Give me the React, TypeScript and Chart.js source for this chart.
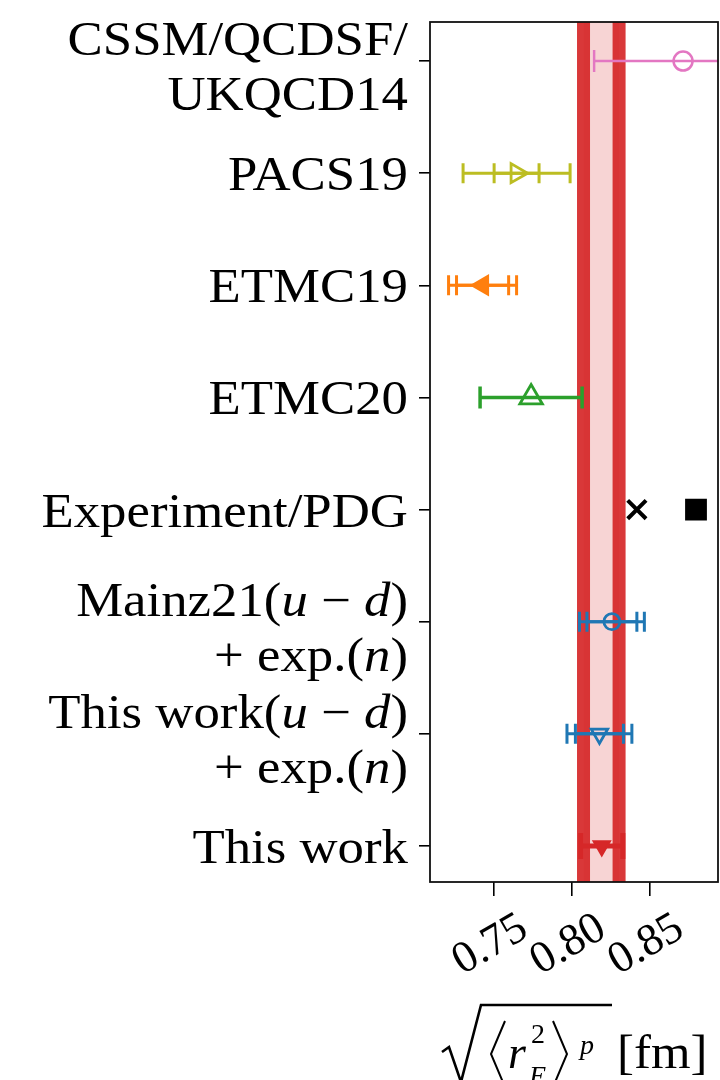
import React, { useEffect, useRef } from 'react';
import { Chart, registerables } from 'chart.js';

Chart.register(...registerables);

// ---------------- data ----------------
const categories: string[][] = [
  ['CSSM/QCDSF/', 'UKQCD14'],
  ['PACS19'],
  ['ETMC19'],
  ['ETMC20'],
  ['Experiment/PDG'],
  ['Mainz21(u − d)', '+ exp.(n)'],
  ['This work(u − d)', '+ exp.(n)'],
  ['This work'],
];
const centralValues: (number | null)[] = [0.8716, 0.7649, 0.7431, 0.7742, null, 0.826, 0.818, 0.8195];
const outerErrors = [0.057, 0.0343, 0.0218, 0.0327, 0, 0.0208, 0.0208, 0.0135];
const innerErrors = [0, 0.0144, 0.0167, 0, 0, 0.016, 0.0154, 0];
const experimentValues = [0.842, 0.8799];
const bandEdges = [0.8078, 0.8306];
const xTickValues = [0.75, 0.8, 0.85];
const xTickLabels = ['0.75', '0.80', '0.85'];
const xRange = [0.7094, 0.894];
const yRange = [-0.348, 7.321];

// ---------------- styles ----------------
type Sty = { color: string; shape: string; rot: number; r: number; fill: boolean; bw: number; lw: number; cap: number };
const styles: Sty[] = [
  { color: '#e377c2', shape: 'circle', rot: 0, r: 9.5, fill: false, bw: 2.5, lw: 2.5, cap: 11 },
  { color: '#bcbd22', shape: 'triangle', rot: 90, r: 11, fill: false, bw: 2.8, lw: 3, cap: 10 },
  { color: '#ff7f0e', shape: 'triangle', rot: 270, r: 11, fill: true, bw: 2, lw: 3, cap: 10 },
  { color: '#2ca02c', shape: 'triangle', rot: 0, r: 13, fill: false, bw: 2.8, lw: 3.5, cap: 11 },
  { color: '#000000', shape: 'crossRot', rot: 0, r: 13, fill: true, bw: 4, lw: 3, cap: 10 },
  { color: '#1f77b4', shape: 'circle', rot: 0, r: 8, fill: false, bw: 2.8, lw: 3, cap: 10 },
  { color: '#1f77b4', shape: 'triangle', rot: 180, r: 9.5, fill: false, bw: 2.8, lw: 3, cap: 10 },
  { color: '#d62728', shape: 'triangle', rot: 180, r: 9.5, fill: true, bw: 2, lw: 5, cap: 13 },
];
const RED = '214,39,40';
const SERIF = '"Liberation Serif", "DejaVu Serif", serif';
const Y_FONT = 48;
const Y_SX = 1.1;

function splitSegments(line: string) {
  const segs: { t: string; it: boolean }[] = [];
  let depth = 0;
  let cur = '';
  let curIt = false;
  for (const ch of line) {
    let it = false;
    if (ch === '(') depth++;
    else if (ch === ')') depth--;
    else if (depth > 0 && /[a-z]/.test(ch)) it = true;
    if (cur && it !== curIt) {
      segs.push({ t: cur, it: curIt });
      cur = '';
    }
    curIt = it;
    cur += ch;
  }
  if (cur) segs.push({ t: cur, it: curIt });
  return segs;
}

const bandAndErrorPlugin = {
  id: 'bandAndErrors',
  beforeDatasetsDraw(chart: any) {
    const { ctx, chartArea: a, scales } = chart;
    const x = scales.x;
    const y = scales.y;
    ctx.save();
    ctx.beginPath();
    ctx.rect(a.left, a.top, a.right - a.left, a.bottom - a.top);
    ctx.clip();
    // band
    const b0 = x.getPixelForValue(bandEdges[0]);
    const b1 = x.getPixelForValue(bandEdges[1]);
    ctx.fillStyle = `rgba(${RED},0.2)`;
    ctx.fillRect(b0, a.top, b1 - b0, a.bottom - a.top);
    ctx.strokeStyle = `rgba(${RED},0.92)`;
    ctx.lineWidth = 13;
    ctx.lineCap = 'butt';
    for (const bx of [b0, b1]) {
      ctx.beginPath();
      ctx.moveTo(bx, a.top);
      ctx.lineTo(bx, a.bottom);
      ctx.stroke();
    }
    // error bars
    centralValues.forEach((v, i) => {
      if (v === null) return;
      const s = styles[i];
      const py = y.getPixelForValue(i);
      ctx.strokeStyle = s.color;
      ctx.lineWidth = s.lw;
      for (const e of [outerErrors[i], innerErrors[i]]) {
        if (!e) continue;
        const xl = x.getPixelForValue(v - e);
        const xr = x.getPixelForValue(v + e);
        ctx.beginPath();
        ctx.moveTo(xl, py);
        ctx.lineTo(xr, py);
        ctx.moveTo(xl, py - s.cap);
        ctx.lineTo(xl, py + s.cap);
        ctx.moveTo(xr, py - s.cap);
        ctx.lineTo(xr, py + s.cap);
        ctx.stroke();
      }
    });
    ctx.restore();
  },
  afterDatasetsDraw(chart: any) {
    const { ctx, chartArea: a } = chart;
    ctx.save();
    ctx.strokeStyle = '#111';
    ctx.lineWidth = 1.8;
    ctx.strokeRect(a.left, a.top, a.right - a.left, a.bottom - a.top);
    ctx.restore();
  },
  afterDraw(chart: any) {
    const { ctx, chartArea: a, scales } = chart;
    const x = scales.x;
    const y = scales.y;
    ctx.save();
    ctx.fillStyle = '#000';
    // y labels
    const right = a.left - 22;
    categories.forEach((lines, i) => {
      const py = y.getPixelForValue(i);
      const baselines = lines.length === 1 ? [py + 17] : [py - 6, py + 49];
      lines.forEach((line, k) => {
        const segs = splitSegments(line);
        let W = 0;
        const widths = segs.map((sg) => {
          ctx.font = `${sg.it ? 'italic ' : ''}${Y_FONT}px ${SERIF}`;
          const w = ctx.measureText(sg.t).width;
          W += w;
          return w;
        });
        ctx.save();
        ctx.translate(right, baselines[k]);
        ctx.scale(Y_SX, 1);
        ctx.textAlign = 'left';
        ctx.textBaseline = 'alphabetic';
        let cx = -W;
        segs.forEach((sg, j) => {
          ctx.font = `${sg.it ? 'italic ' : ''}${Y_FONT}px ${SERIF}`;
          ctx.fillText(sg.t, cx, 0);
          cx += widths[j];
        });
        ctx.restore();
      });
    });
    // x tick labels (rotated)
    xTickValues.forEach((v, i) => {
      const px = x.getPixelForValue(v);
      ctx.save();
      ctx.translate(px - 3, a.bottom + 63);
      ctx.rotate((-30 * Math.PI) / 180);
      ctx.font = `45px ${SERIF}`;
      ctx.textAlign = 'center';
      ctx.textBaseline = 'middle';
      ctx.fillText(xTickLabels[i], 0, 0);
      ctx.restore();
    });
    // axis title: sqrt(<r_E^2>^p) [fm]
    const cx = (a.left + a.right) / 2;
    const by = 1068;
    ctx.strokeStyle = '#000';
    ctx.lineWidth = 2.6;
    ctx.lineJoin = 'miter';
    ctx.beginPath();
    ctx.moveTo(cx - 132, by - 16);
    ctx.lineTo(cx - 125, by - 21);
    ctx.lineTo(cx - 113, by + 14);
    ctx.lineTo(cx - 93, by - 63);
    ctx.lineTo(cx + 38, by - 63);
    ctx.stroke();
    ctx.lineWidth = 2;
    ctx.beginPath();
    ctx.moveTo(cx - 69, by - 47);
    ctx.lineTo(cx - 83, by - 14);
    ctx.lineTo(cx - 69, by + 19);
    ctx.moveTo(cx - 21, by - 47);
    ctx.lineTo(cx - 7, by - 14);
    ctx.lineTo(cx - 21, by + 19);
    ctx.stroke();
    ctx.textAlign = 'left';
    ctx.textBaseline = 'alphabetic';
    ctx.font = `italic 46px ${SERIF}`;
    ctx.fillText('r', cx - 66, by);
    ctx.font = `28px ${SERIF}`;
    ctx.fillText('2', cx - 43, by - 25);
    ctx.font = `italic 28px ${SERIF}`;
    ctx.fillText('E', cx - 45, by + 17);
    ctx.fillText('p', cx + 6, by - 14);
    ctx.save();
    ctx.translate(cx + 43, by);
    ctx.scale(1.06, 1);
    ctx.font = `48px ${SERIF}`;
    ctx.fillText('[fm]', 0, 0);
    ctx.restore();
    ctx.restore();
  },
};

export default function App() {
  const ref = useRef<HTMLCanvasElement | null>(null);
  useEffect(() => {
    if (!ref.current) return;
    const datasets: any[] = [];
    centralValues.forEach((v, i) => {
      if (v === null) return;
      const s = styles[i];
      datasets.push({
        data: [{ x: v, y: i }],
        pointStyle: s.shape,
        pointRotation: s.rot,
        pointRadius: s.r,
        pointBorderWidth: s.bw,
        pointBorderColor: s.color,
        pointBackgroundColor: s.fill ? s.color : 'rgba(0,0,0,0)',
        showLine: false,
      });
    });
    datasets.push({
      data: [{ x: experimentValues[0], y: 4 }],
      pointStyle: 'crossRot',
      pointRadius: 13,
      pointBorderWidth: 4,
      pointBorderColor: '#000',
      pointBackgroundColor: '#000',
    });
    datasets.push({
      data: [{ x: experimentValues[1], y: 4 }],
      pointStyle: 'rect',
      pointRadius: 14,
      pointBorderWidth: 2,
      pointBorderColor: '#000',
      pointBackgroundColor: '#000',
    });
    const chart = new Chart(ref.current, {
      type: 'scatter',
      data: { datasets },
      options: {
        animation: false,
        responsive: false,
        devicePixelRatio: 1,
        events: [],
        layout: { autoPadding: false, padding: { top: 22, right: 2, left: 0, bottom: 0 } },
        plugins: { legend: { display: false }, tooltip: { enabled: false } },
        scales: {
          x: {
            type: 'linear',
            min: xRange[0],
            max: xRange[1],
            afterBuildTicks: (s: any) => {
              s.ticks = xTickValues.map((v) => ({ value: v }));
            },
            afterFit: (s: any) => {
              s.height = 198;
            },
            ticks: { display: false },
            border: { display: false },
            grid: { drawOnChartArea: false, drawTicks: true, tickLength: 14, color: '#000', lineWidth: 1.6 },
          },
          y: {
            type: 'linear',
            reverse: true,
            min: yRange[0],
            max: yRange[1],
            afterBuildTicks: (s: any) => {
              s.ticks = categories.map((_, i) => ({ value: i }));
            },
            afterFit: (s: any) => {
              s.width = 430;
            },
            ticks: { display: false },
            border: { display: false },
            grid: { drawOnChartArea: false, drawTicks: true, tickLength: 11, color: '#000', lineWidth: 1.6 },
          },
        },
      } as any,
      plugins: [bandAndErrorPlugin],
    });
    let alive = true;
    const fonts: any = (document as any).fonts;
    if (fonts && fonts.load) {
      Promise.all([
        fonts.load(`48px ${SERIF}`),
        fonts.load(`italic 48px ${SERIF}`),
      ]).then(() => {
        if (alive) chart.update();
      });
    }
    return () => {
      alive = false;
      chart.destroy();
    };
  }, []);
  return (
    <div style={{ position: 'fixed', left: 0, top: 0, width: 720, height: 1080, background: '#fff' }}>
      <canvas ref={ref} width={720} height={1080} style={{ display: 'block' }} />
    </div>
  );
}
